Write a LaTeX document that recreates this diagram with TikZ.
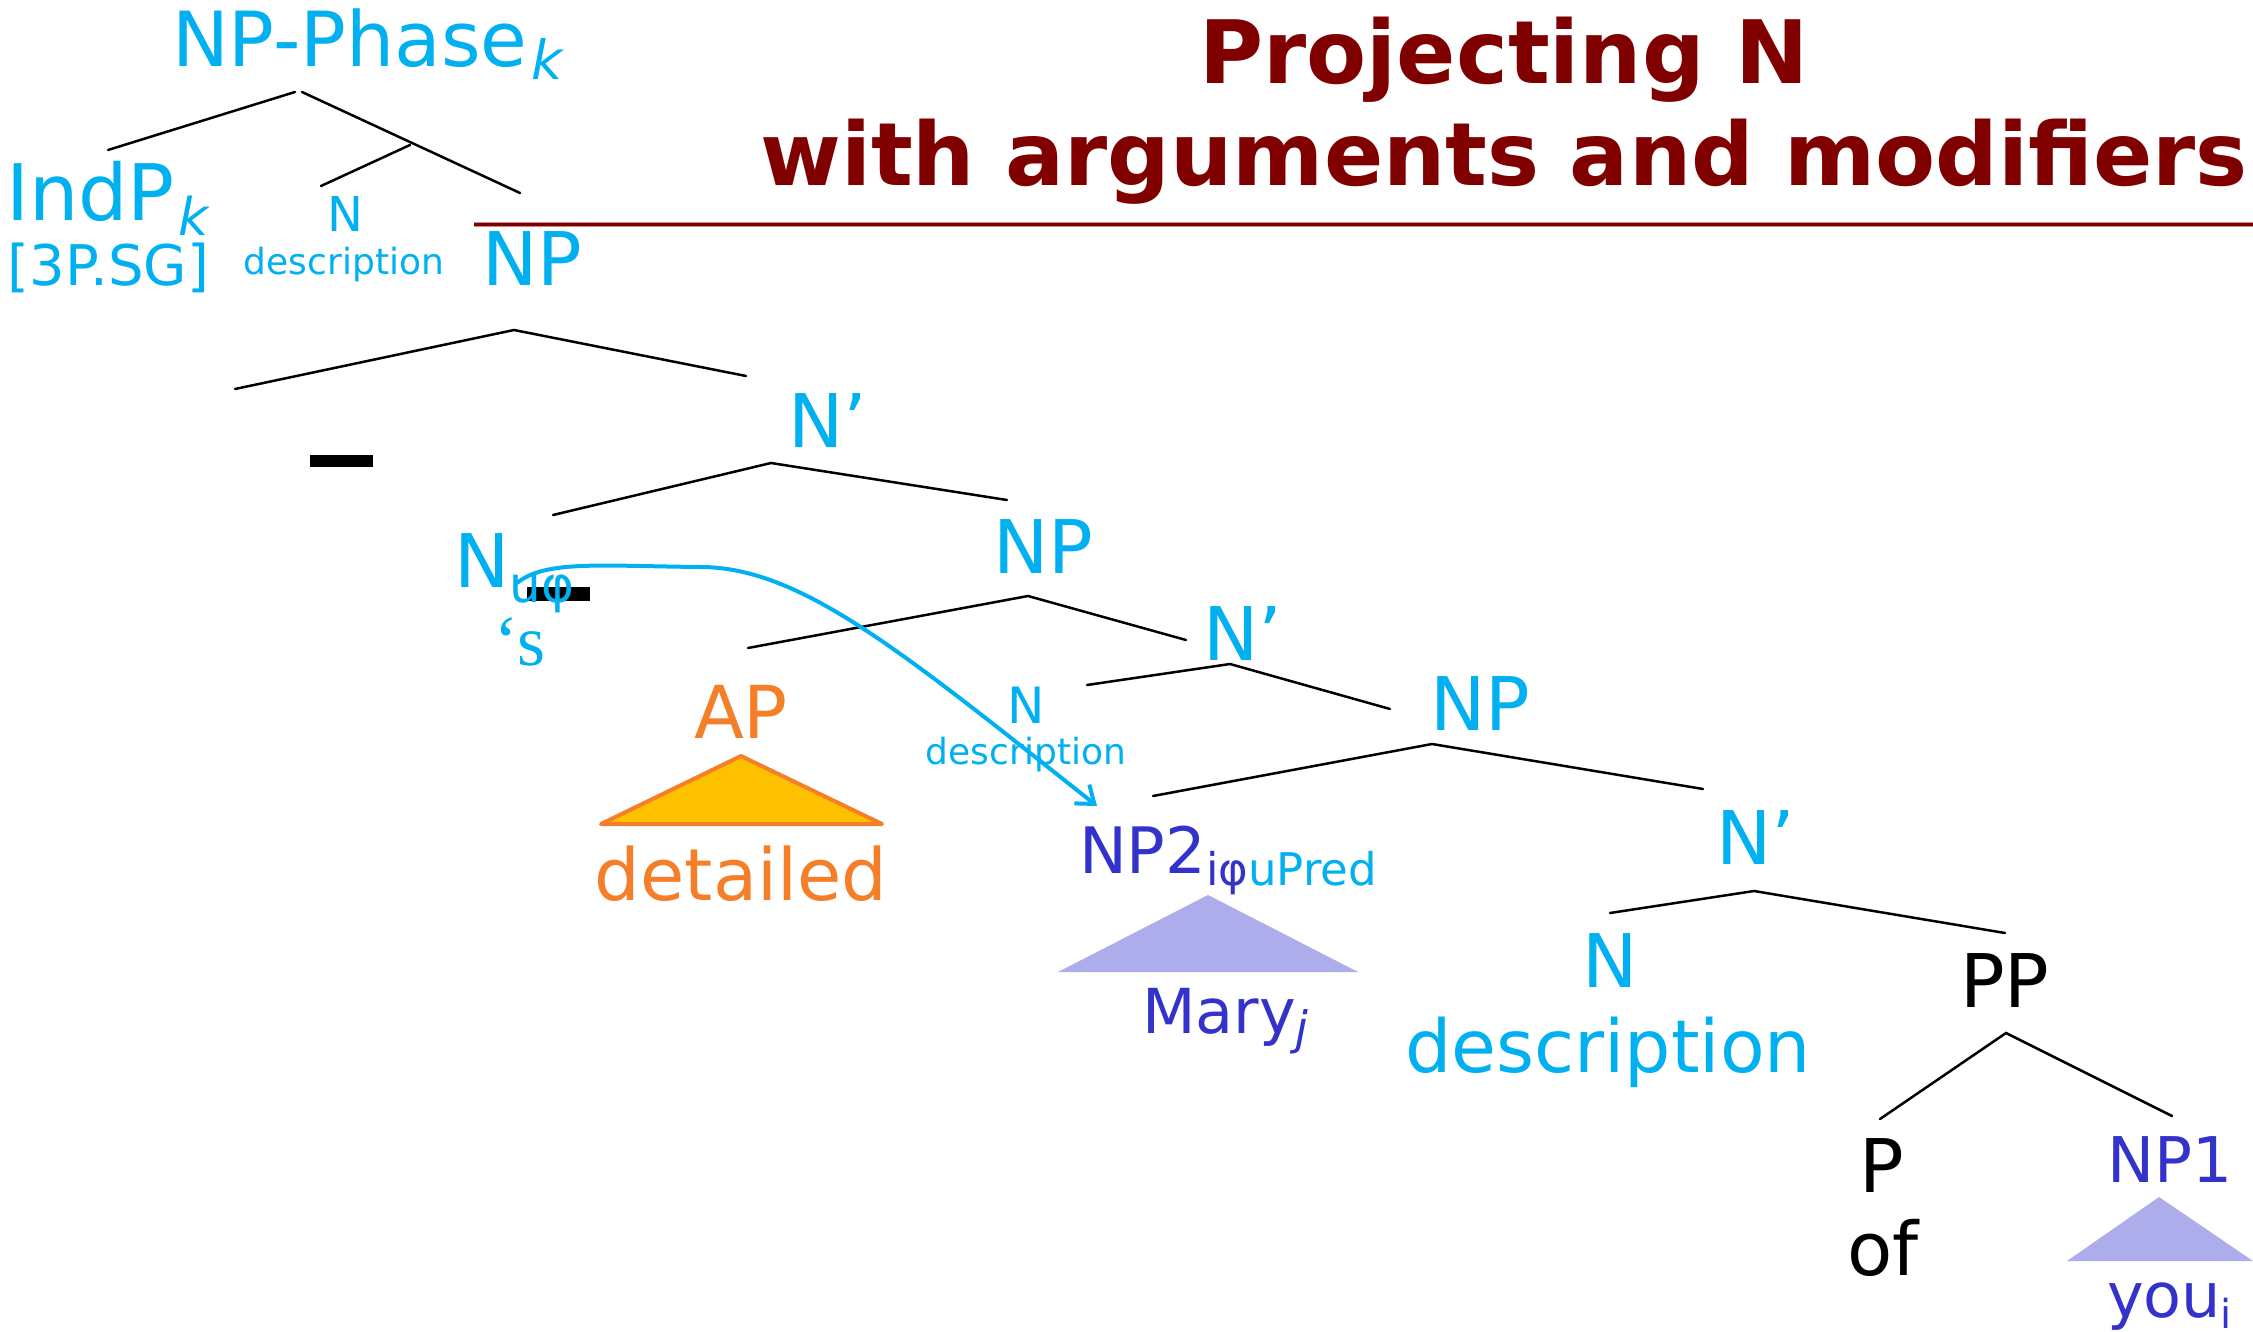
\documentclass[tikz,border=0pt]{standalone}
\usepackage{fontspec}
\setmainfont{DejaVu Sans}
\newfontfamily\serifx{Liberation Serif}
\usetikzlibrary{arrows.meta}
\definecolor{skyb}{HTML}{00B0F0}
\definecolor{deepb}{HTML}{3333CC}
\definecolor{orng}{HTML}{F57F29}
\definecolor{goldf}{HTML}{FFC000}
\definecolor{lav}{HTML}{ADADEB}
\definecolor{titlered}{HTML}{800000}
\newcommand{\fsz}[1]{\fontsize{#1}{#1}\selectfont}
\newcommand{\lowsub}[3]{\raisebox{-#1pt}{\fsz{#2}#3}}
\begin{document}
\begin{tikzpicture}[x=1pt,y=-1pt,
  lbl/.style={inner sep=0pt, outer sep=0pt, anchor=base west},
  clbl/.style={inner sep=0pt, outer sep=0pt, anchor=base},
  branch/.style={line width=2.5pt, black, line cap=round},
  big/.style={font={\fsz{74}}},
  mid/.style={font={\fsz{62}}},
  small/.style={font={\fsz{36}}}]
\useasboundingbox (0,0) rectangle (2253,1332);
\fill[white] (0,0) rectangle (2253,1332);

% ---- title ----
\node[clbl, titlered, font={\fsz{87.5}\bfseries}] (title1) at (1504,84) {Projecting N};
\node[clbl, titlered, font={\fsz{87.5}\bfseries}] (title2) at (1504,186) {with arguments and modifiers};
\coordinate (rule-l) at (474,225);
\coordinate (rule-r) at (2253,225);
\draw[titlered!45, line width=5pt] (rule-l) -- (rule-r);
\draw[titlered, line width=3pt] (rule-l) -- (rule-r);

% ---- labels ----
\node[lbl, skyb, font={\fsz{76}}] (npphase) at (172,67) {NP-Phase\kern4pt\lowsub{13}{54}{\itshape k}};
\node[lbl, skyb, font={\fsz{78}}] (indp) at (6,221) {IndP\kern4pt\lowsub{15}{52}{\itshape k}};
\node[lbl, skyb, font={\fsz{56}}] (feat) at (8,285) {[3P.SG]};
\node[clbl, skyb, font={\fsz{48}}] (nsmall) at (345,232) {N};
\node[clbl, skyb, small] (dsmall) at (344,275) {description};
\node[lbl, skyb, big] (np1) at (482,286) {NP};

\node[lbl, skyb, big] (nbar1) at (788,447) {N’};

\fill[black] (527,587) rectangle (590,601);
\node[lbl, skyb, big] (nuphi) at (454,587) {N\lowsub{15}{50}{uφ}};
\node[lbl, skyb, font={\serifx\fsz{72}}] (poss) at (494,665) {‘s};

\node[lbl, skyb, big] (np2) at (993,573) {NP};
\node[lbl, skyb, big] (nbar2) at (1203,660) {N’};
\node[clbl, skyb, font={\fsz{50}}] (nmid) at (1026,723) {N};
\node[clbl, skyb, small] (dmid) at (1026,764) {description};

\node[clbl, orng, font={\fsz{73}}] (ap) at (741,738) {AP};
\node[clbl, orng, font={\fsz{72}}] (detailed) at (741,900) {detailed};

\node[lbl, deepb, font={\fsz{64}}] (nptwo) at (1079,873) {NP2\lowsub{12}{45}{iφ\textcolor{skyb}{uPred}}};
\node[lbl, deepb, mid] (mary) at (1142,1033) {Mary\lowsub{11}{46}{\itshape j}};

\node[lbl, skyb, big] (np3) at (1430,730) {NP};
\node[lbl, skyb, big] (nbar3) at (1716,864) {N’};
\node[clbl, skyb, big] (nlow) at (1610,987) {N};
\node[clbl, skyb, font={\fsz{73}}] (dlow) at (1608,1072) {description};

\node[lbl, black, big] (pp) at (1960,1007) {PP};
\node[clbl, black, big] (p) at (1882,1192) {P};
\node[clbl, black, big] (of) at (1883,1275) {of};
\node[lbl, deepb, font={\fsz{63}}] (npone) at (2107,1182) {NP1};
\node[lbl, deepb, mid] (you) at (2107,1317) {you\lowsub{11}{40}{i}};

% ---- triangles ----
\coordinate (ap-top) at (741,756);
\coordinate (ap-l) at (601,824);
\coordinate (ap-r) at (882,824);
\filldraw[fill=goldf, draw=orng, line width=4pt, line join=round] (ap-top) -- (ap-l) -- (ap-r) -- cycle;
\coordinate (n2-top) at (1208,895);
\coordinate (n2-l) at (1058,972);
\coordinate (n2-r) at (1358,972);
\fill[lav] (n2-top) -- (n2-l) -- (n2-r) -- cycle;
\coordinate (n1-top) at (2159,1197);
\coordinate (n1-l) at (2067,1261);
\coordinate (n1-r) at (2253,1261);
\fill[lav] (n1-top) -- (n1-l) -- (n1-r) -- cycle;

% ---- branches ----
\coordinate (ph-a) at (295,92);  \coordinate (ph-l) at (108,150);
\coordinate (ph-b) at (302,92);  \coordinate (ph-r) at (520,193);
\coordinate (ph-m) at (410,145); \coordinate (ph-n) at (321,186);
\draw[branch] (ph-a) -- (ph-l);
\draw[branch] (ph-b) -- (ph-r);
\draw[branch] (ph-m) -- (ph-n);

\coordinate (np1-a) at (514,330); \coordinate (np1-l) at (235,389); \coordinate (np1-r) at (746,376);
\draw[branch] (np1-l) -- (np1-a) -- (np1-r);
\fill[black] (310,455) rectangle (373,467);

\coordinate (nb1-a) at (771,463); \coordinate (nb1-l) at (553,515); \coordinate (nb1-r) at (1007,500);
\draw[branch] (nb1-l) -- (nb1-a) -- (nb1-r);

\coordinate (np2-a) at (1028,596); \coordinate (np2-l) at (748,648); \coordinate (np2-r) at (1186,640);
\draw[branch] (np2-l) -- (np2-a) -- (np2-r);

\coordinate (nb2-a) at (1230,664); \coordinate (nb2-l) at (1087,685); \coordinate (nb2-r) at (1390,709);
\draw[branch] (nb2-l) -- (nb2-a) -- (nb2-r);

\coordinate (np3-a) at (1432,744); \coordinate (np3-l) at (1153,796); \coordinate (np3-r) at (1703,789);
\draw[branch] (np3-l) -- (np3-a) -- (np3-r);

\coordinate (nb3-a) at (1754,891); \coordinate (nb3-l) at (1610,913); \coordinate (nb3-r) at (2005,933);
\draw[branch] (nb3-l) -- (nb3-a) -- (nb3-r);

\coordinate (pp-a) at (2006,1033); \coordinate (pp-l) at (1880,1119); \coordinate (pp-r) at (2172,1116);
\draw[branch] (pp-l) -- (pp-a) -- (pp-r);

% ---- movement arrow ----
\coordinate (mv-s) at (517,583);
\coordinate (mv-m) at (700,567);
\coordinate (mv-e) at (1097,806);
\draw[skyb, line width=4pt, -{Straight Barb[length=16pt,width=24pt,line width=4pt]}]
  (mv-s) .. controls (545,560) and (600,566) .. (mv-m)
  .. controls (800,567) and (900,650) .. (mv-e);
\end{tikzpicture}
\end{document}
